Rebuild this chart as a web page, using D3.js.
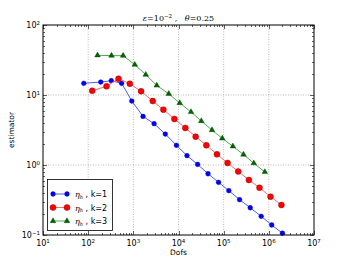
<!DOCTYPE html>
<html>
<head>
<meta charset="utf-8">
<script src="https://cdn.jsdelivr.net/npm/d3@7"></script>
<style>
  body { margin: 0; background: #fff; }
  svg text { font-family: "DejaVu Sans", sans-serif; white-space: pre; }
</style>
</head>
<body>
<div id="chart"></div>
<script>
// data
var dofsK1 = [80, 190, 325, 550, 925, 1640, 2880, 5100, 9000, 15400, 26500, 45000, 77000, 130000, 225000, 387000, 677000, 1160000, 2000000]
var estK1 = [14.7, 15.3, 16.0, 14.7, 8.2, 4.95, 3.89, 2.77, 1.91, 1.36, 1.02, 0.75, 0.565, 0.43, 0.32, 0.245, 0.185, 0.139, 0.106]
var dofsK2 = [123, 255, 470, 836, 1486, 2690, 4630, 8110, 14200, 24000, 41300, 71000, 122000, 210000, 362000, 622000, 1090000, 1900000]
var estK2 = [11.5, 13.3, 17.1, 14.5, 11.3, 8.2, 6.17, 4.54, 3.38, 2.54, 1.91, 1.42, 1.07, 0.81, 0.61, 0.474, 0.353, 0.268]
var dofsK3 = [161, 329, 595, 1077, 1884, 3300, 6080, 10640, 18930, 32000, 55100, 93100, 160000, 275000, 466000, 816000]
var estK3 = [36.9, 36.5, 36.5, 27.1, 19.5, 13.7, 10.4, 7.69, 5.72, 4.25, 3.16, 2.40, 1.85, 1.41, 1.06, 0.795]
var xTickExps = [1, 2, 3, 4, 5, 6, 7]
var yTickExps = [-1, 0, 1, 2]
var seriesLabels = ['k=1', 'k=2', 'k=3']

var W = 349, H = 262
  , margin = {left: 43, right: 35, top: 25, bottom: 27}
  , x = d3.scaleLog().domain([1e1, 1e7]).range([margin.left, W - margin.right])
  , y = d3.scaleLog().domain([1e-1, 1e2]).range([H - margin.bottom, margin.top])
  , svg = d3.select('#chart').append('svg')
    .attr('width', W)
    .attr('height', H)

var x0 = x.range()[0], x1 = x.range()[1], y0 = y.range()[0], y1 = y.range()[1]

// grid
var grid = svg.append('g')
grid.selectAll('line.gx').data(xTickExps.slice(1, -1)).enter().append('line')
  .attr('x1', function(d) { return x(Math.pow(10, d)) })
  .attr('x2', function(d) { return x(Math.pow(10, d)) })
  .attr('y1', y0).attr('y2', y1)
grid.selectAll('line.gy').data(yTickExps.slice(1, -1)).enter().append('line')
  .attr('y1', function(d) { return y(Math.pow(10, d)) })
  .attr('y2', function(d) { return y(Math.pow(10, d)) })
  .attr('x1', x0).attr('x2', x1)
grid.selectAll('line')
  .attr('stroke', '#aaa')
  .attr('stroke-width', 0.8)
  .attr('stroke-dasharray', '1,1.5')

// ticks, inside, on all four sides
function minorValues(exps) {
  var out = []
  for (var e = exps[0]; e < exps[exps.length - 1]; e++)
    for (var m = 2; m < 10; m++) out.push(m * Math.pow(10, e))
  return out
}
var ticks = svg.append('g').attr('stroke', '#000').attr('stroke-width', 0.6)
xTickExps.map(function(e) { return {v: Math.pow(10, e), len: 4} })
  .concat(minorValues(xTickExps).map(function(v) { return {v: v, len: 2} }))
  .forEach(function(t) {
    var px = Math.round(x(t.v)) + 0.5
    ticks.append('line').attr('x1', px).attr('x2', px).attr('y1', y0).attr('y2', y0 - t.len)
    ticks.append('line').attr('x1', px).attr('x2', px).attr('y1', y1).attr('y2', y1 + t.len)
  })
yTickExps.map(function(e) { return {v: Math.pow(10, e), len: 4} })
  .concat(minorValues(yTickExps).map(function(v) { return {v: v, len: 2} }))
  .forEach(function(t) {
    var py = Math.round(y(t.v)) + 0.5
    ticks.append('line').attr('y1', py).attr('y2', py).attr('x1', x0).attr('x2', x0 + t.len)
    ticks.append('line').attr('y1', py).attr('y2', py).attr('x1', x1).attr('x2', x1 - t.len)
  })

// tick labels as 10^n
svg.selectAll('text.xt').data(xTickExps).enter().append('text')
  .attr('x', function(d) { return x(Math.pow(10, d)) })
  .attr('y', y0 + 11)
  .attr('text-anchor', 'middle')
  .attr('font-size', 8)
  .each(function(d) {
    d3.select(this).append('tspan').text('10')
    d3.select(this).append('tspan').attr('dy', -3.5).attr('font-size', 5.5).text(d)
  })
svg.selectAll('text.yt').data(yTickExps).enter().append('text')
  .attr('x', x0 - 3)
  .attr('y', function(d) { return y(Math.pow(10, d)) + 3 })
  .attr('text-anchor', 'end')
  .attr('font-size', 8)
  .each(function(d) {
    d3.select(this).append('tspan').text('10')
    d3.select(this).append('tspan').attr('dy', -3.5).attr('font-size', 5.5).text(d < 0 ? '\u2212' + (-d) : d)
  })

// axis labels
svg.append('text')
  .attr('x', (x0 + x1) / 2).attr('y', H - 7)
  .attr('text-anchor', 'middle').attr('font-size', 7.5)
  .text('Dofs')
svg.append('text')
  .attr('transform', 'translate(14,' + ((y0 + y1) / 2) + ') rotate(-90)')
  .attr('text-anchor', 'middle').attr('font-size', 7.5)
  .text('estimator')

// title
var title = svg.append('text')
  .attr('x', (x0 + x1) / 2).attr('y', y1 - 4)
  .attr('text-anchor', 'middle')
  .attr('font-size', 8)
  .style('font-family', '"DejaVu Serif", serif')
title.append('tspan').attr('font-style', 'italic').text('\u03b5')
title.append('tspan').text('=10')
title.append('tspan').attr('dy', -3.5).attr('font-size', 5.5).text('\u22122')
title.append('tspan').attr('dy', 3.5).text(' ,   ')
title.append('tspan').attr('font-style', 'italic').text('\u03b8')
title.append('tspan').text('=0.25')

// series
var series = [
  {xs: dofsK1, ys: estK1, line: '#4d5cf5', fill: '#0000ff', stroke: '#0000aa', shape: d3.symbolCircle, size: 18},
  {xs: dofsK2, ys: estK2, line: '#ff6a6a', fill: '#ff0000', stroke: '#7a0000', shape: d3.symbolCircle, size: 28},
  {xs: dofsK3, ys: estK3, line: '#4cab4c', fill: '#006400', stroke: '#004000', shape: d3.symbolTriangle, size: 14}
]
var lineGen = d3.line()
  .x(function(d) { return x(d[0]) })
  .y(function(d) { return y(d[1]) })

var plot = svg.append('g')
series.forEach(function(s) {
  var pts = d3.zip(s.xs, s.ys)
  plot.append('path')
    .attr('d', lineGen(pts))
    .attr('fill', 'none')
    .attr('stroke', s.line)
    .attr('stroke-width', 1)
  plot.selectAll(null).data(pts).enter().append('path')
    .attr('transform', function(d) { return 'translate(' + x(d[0]) + ',' + y(d[1]) + ')' })
    .attr('d', d3.symbol().type(s.shape).size(s.size))
    .attr('fill', s.fill)
    .attr('stroke', s.stroke)
    .attr('stroke-width', 0.4)
})

// frame
svg.append('rect')
  .attr('x', x0).attr('y', y1)
  .attr('width', x1 - x0).attr('height', y0 - y1)
  .attr('fill', 'none').attr('stroke', '#000').attr('stroke-width', 1)

// legend
var legend = svg.append('g')
legend.append('rect')
  .attr('x', 47.5).attr('y', 179.5).attr('width', 65).attr('height', 51)
  .attr('fill', '#fff').attr('stroke', '#000').attr('stroke-width', 0.8)
series.forEach(function(s, i) {
  var ly = 194 + i * 13.5
  legend.append('line')
    .attr('x1', 53).attr('x2', 67).attr('y1', ly).attr('y2', ly)
    .attr('stroke', s.line).attr('stroke-width', 1)
  ;[53, 67].forEach(function(lx) {
    legend.append('path')
      .attr('transform', 'translate(' + lx + ',' + ly + ')')
      .attr('d', d3.symbol().type(s.shape).size(s.size))
      .attr('fill', s.fill).attr('stroke', s.stroke).attr('stroke-width', 0.4)
  })
  var t = legend.append('text').attr('x', 75).attr('y', ly + 3).attr('font-size', 8)
  t.append('tspan').style('font-family', '"DejaVu Serif", serif').attr('font-style', 'italic').text('\u03b7')
  t.append('tspan').style('font-family', '"DejaVu Serif", serif').attr('font-style', 'italic')
    .attr('font-size', 5).attr('dy', 1.5).text('h')
  t.append('tspan').attr('dy', -1.5).text(' , ' + seriesLabels[i])
})
</script>
</body>
</html>
